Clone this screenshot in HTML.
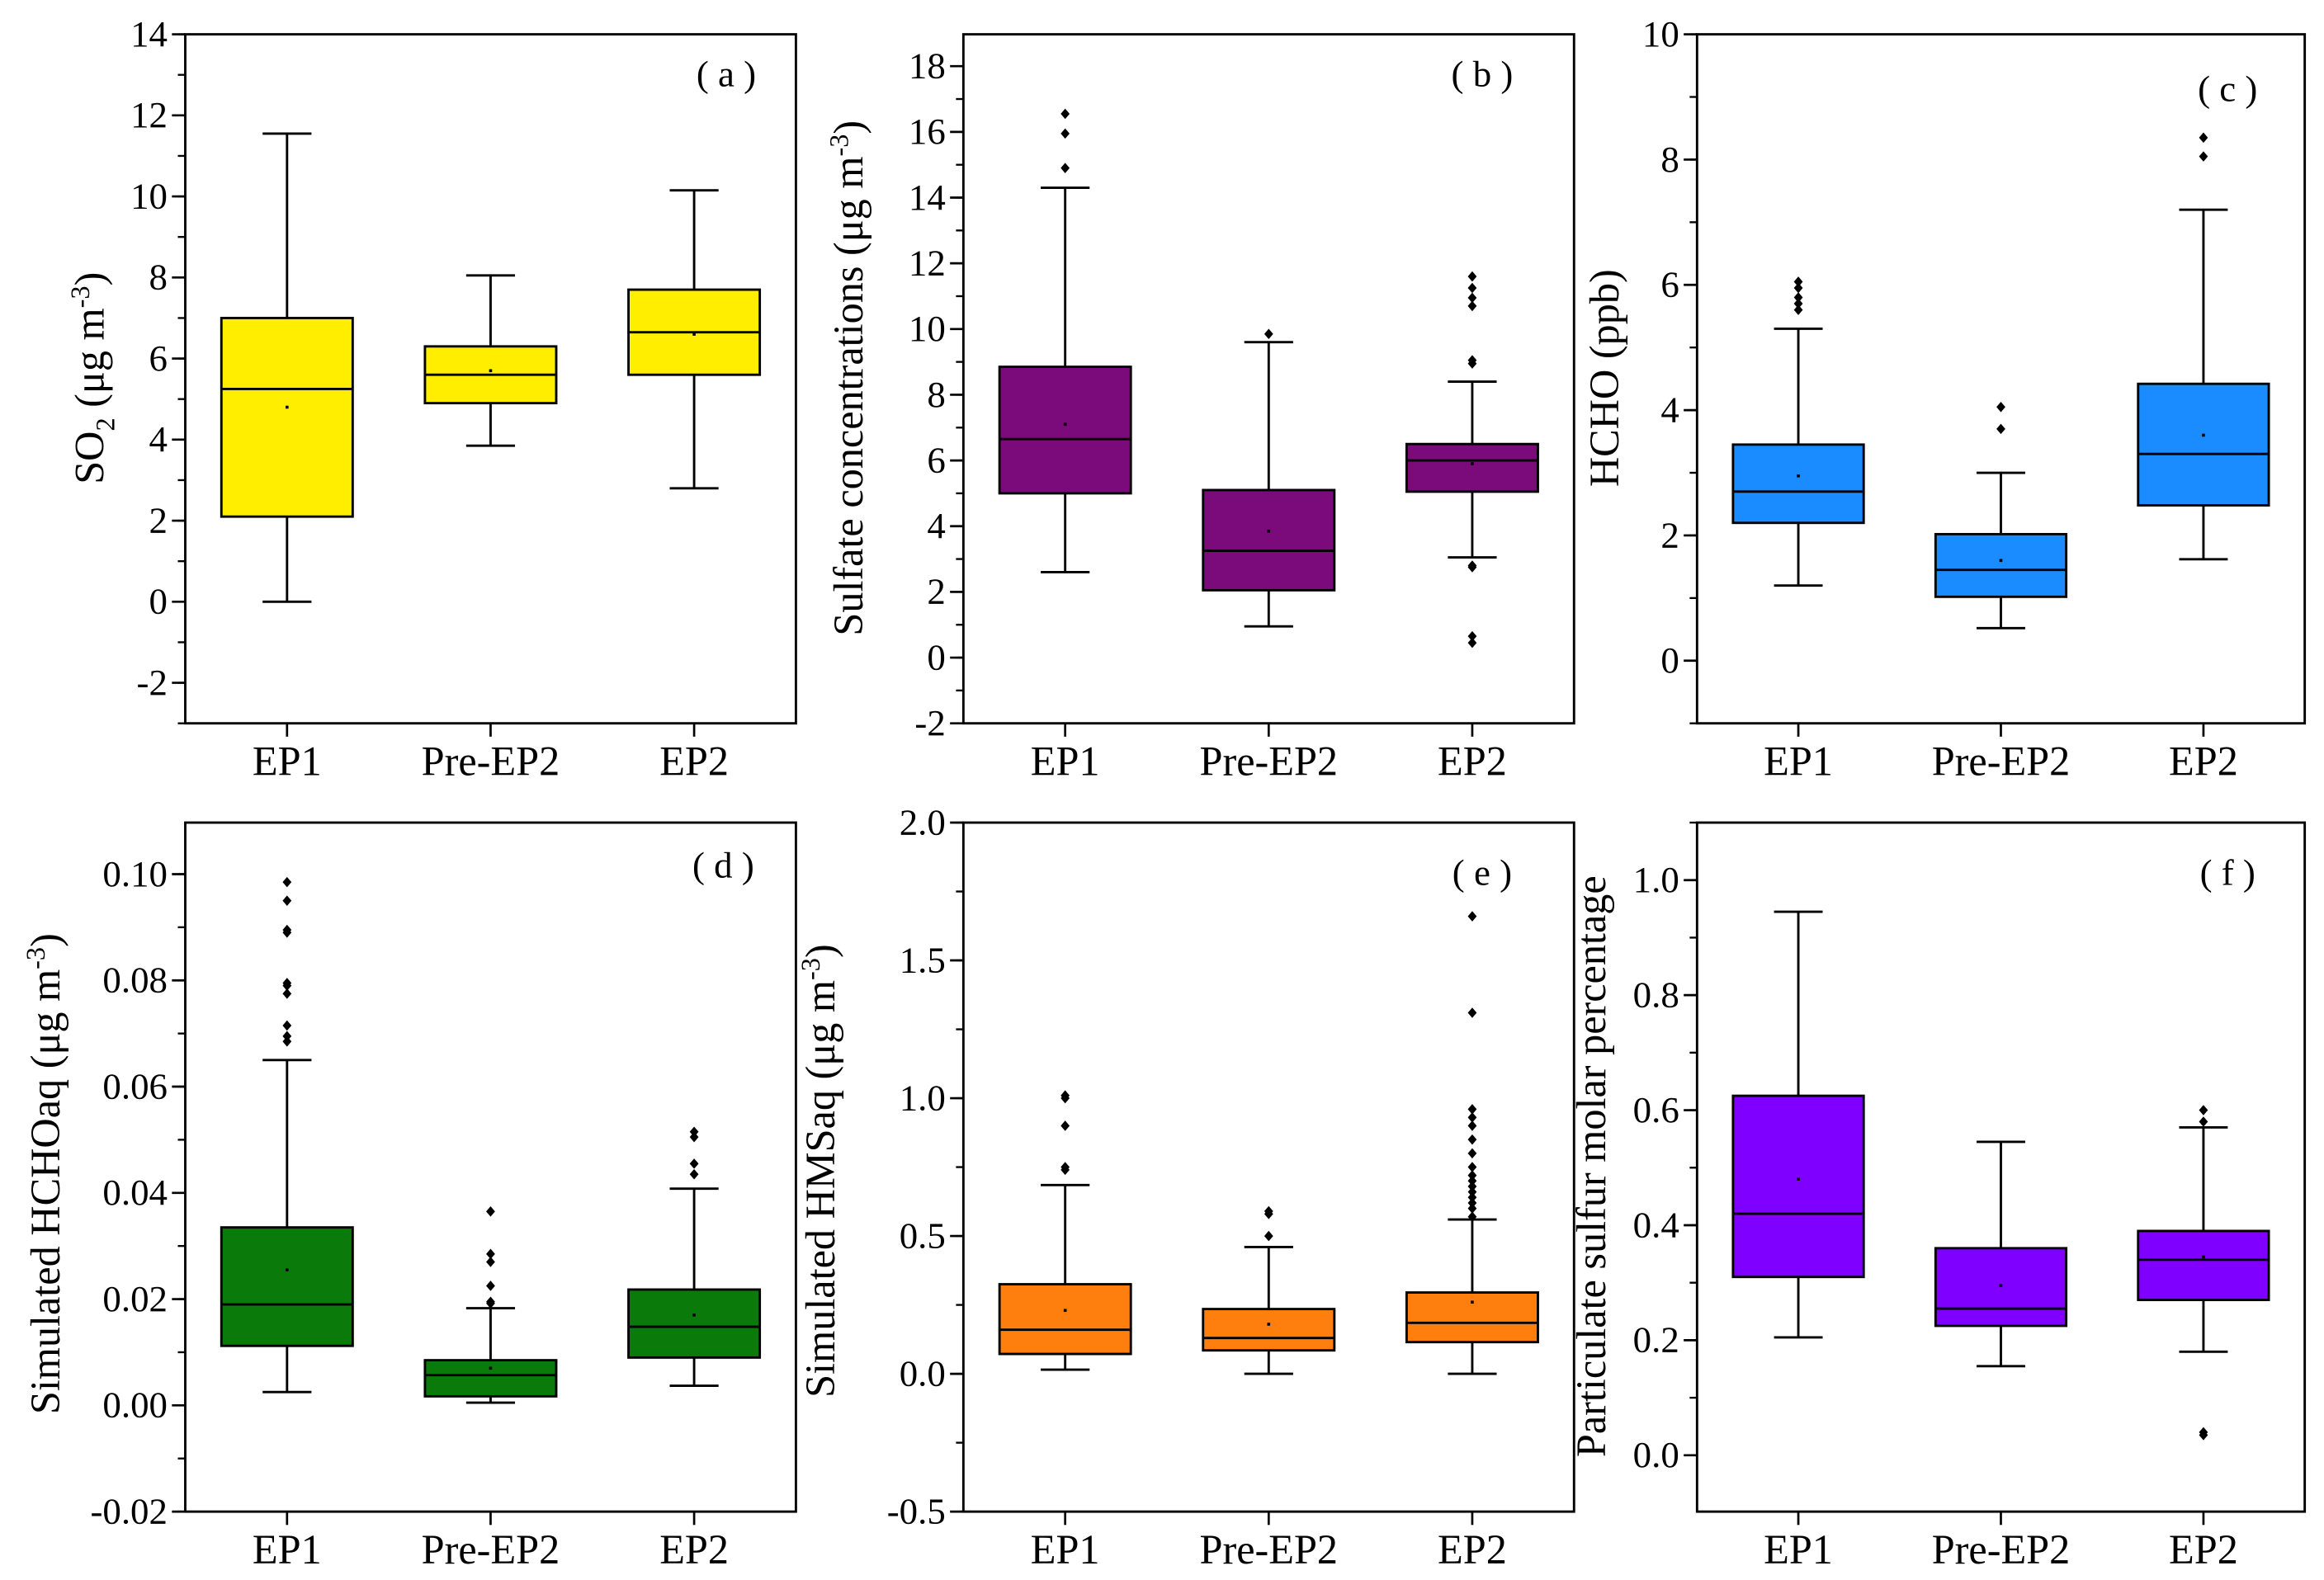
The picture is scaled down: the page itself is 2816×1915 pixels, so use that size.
<!DOCTYPE html>
<html><head><meta charset="utf-8"><style>
html,body{margin:0;padding:0;background:#fff}
svg{display:block}
text{font-family:"Liberation Serif","Times New Roman",Times,serif;fill:#000}
</style></head><body>
<svg id="fig" width="2816" height="1915" viewBox="0 0 1568 1066" xmlns="http://www.w3.org/2000/svg"></svg>
<script>
const categories = ["EP1","Pre-EP2","EP2"];
// per panel: [whiskerLow, q1, median, q3, whiskerHigh, mean]
const statsA = [[0,2.1,5.25,7.0,11.55,4.8],[3.85,4.9,5.6,6.3,8.05,5.7],[2.8,5.6,6.65,7.7,10.15,6.6]];
const outA = [[],[],[]];
const statsB = [[2.6,5.0,6.65,8.85,14.3,7.1],[0.95,2.05,3.25,5.1,9.6,3.85],[3.05,5.05,6.0,6.5,8.4,5.9]];
const outB = [[14.9,15.95,16.55],[9.85],[8.95,9.05,10.7,10.95,11.25,11.6,2.8,2.75,0.65,0.45]];
const statsC = [[1.2,2.2,2.7,3.45,5.3,2.95],[0.52,1.02,1.45,2.02,3.0,1.6],[1.62,2.48,3.3,4.42,7.2,3.6]];
const outC = [[5.6,5.7,5.8,5.95,6.05],[3.7,4.05],[8.05,8.35]];
const statsD = [[0.0025,0.0112,0.019,0.0335,0.065,0.0255],[0.0005,0.0017,0.0057,0.0085,0.0183,0.007],[0.0037,0.009,0.0148,0.0218,0.0408,0.017]];
const outD = [[0.0685,0.0695,0.0715,0.0775,0.079,0.0795,0.089,0.0895,0.095,0.0985],[0.0192,0.0195,0.0225,0.027,0.0285,0.0365],[0.0435,0.0455,0.0505,0.0515]];
const statsE = [[0.015,0.072,0.16,0.325,0.685,0.23],[0,0.085,0.13,0.235,0.46,0.18],[0,0.115,0.185,0.295,0.56,0.26]];
const outE = [[0.74,0.75,0.9,1.0,1.01],[0.5,0.58,0.59],[0.57,0.6,0.62,0.64,0.66,0.68,0.7,0.72,0.75,0.8,0.85,0.9,0.93,0.96,1.31,1.66]];
const statsF = [[0.205,0.31,0.42,0.625,0.945,0.48],[0.155,0.225,0.255,0.36,0.545,0.295],[0.18,0.27,0.34,0.39,0.57,0.345]];
const outF = [[],[],[0.58,0.6,0.04,0.035]];
const ticksA=[-2,0,2,4,6,8,10,12,14], ticksB=[-2,0,2,4,6,8,10,12,14,16,18], ticksC=[0,2,4,6,8,10];
const ticksD=[-0.02,0,0.02,0.04,0.06,0.08,0.10], ticksE=[-0.5,0,0.5,1.0,1.5,2.0], ticksF=[0,0.2,0.4,0.6,0.8,1.0];

const panels=[
 {id:"a",x0:125,x1:537,y0:23,y1:488,min:-3,max:14,ticks:ticksA,dec:0,minor:1,stats:statsA,out:outA,color:"#ffee00",title:"SO<tspan font-size='18' dy='7'>2</tspan><tspan dy='-7'> (μg m</tspan><tspan font-size='18' dy='-10'>-3</tspan><tspan dy='10'>)</tspan>",lab:"( a )",lx:490,ly:58,tx:70,ty:255},
 {id:"b",x0:650,x1:1062,y0:23,y1:488,min:-2,max:18.97,ticks:ticksB,dec:0,minor:1,stats:statsB,out:outB,color:"#7b0a7b",title:"Sulfate concentrations  (μg m<tspan font-size='18' dy='-10'>-3</tspan><tspan dy='10'>)</tspan>",lab:"( b )",lx:1000,ly:58,tx:582,ty:255},
 {id:"c",x0:1145,x1:1555,y0:23,y1:488,min:-1,max:10,ticks:ticksC,dec:0,minor:1,stats:statsC,out:outC,color:"#1a8cff",title:"HCHO (ppb)",lab:"( c )",lx:1503,ly:68,tx:1092,ty:255},
 {id:"d",x0:125,x1:537,y0:555,y1:1020,min:-0.02,max:0.1097,ticks:ticksD,dec:2,minor:0.01,stats:statsD,out:outD,color:"#0a7a0a",title:"Simulated HCHOaq (μg m<tspan font-size='18' dy='-10'>-3</tspan><tspan dy='10'>)</tspan>",lab:"( d )",lx:488,ly:592,tx:40,ty:792},
 {id:"e",x0:650,x1:1062,y0:555,y1:1020,min:-0.5,max:2.0,ticks:ticksE,dec:1,minor:0.25,stats:statsE,out:outE,color:"#ff7f0e",title:"Simulated HMSaq (μg m<tspan font-size='18' dy='-10'>-3</tspan><tspan dy='10'>)</tspan>",lab:"( e )",lx:1000,ly:597,tx:563,ty:790},
 {id:"f",x0:1145,x1:1555,y0:555,y1:1020,min:-0.098,max:1.1,ticks:ticksF,dec:1,minor:0.1,stats:statsF,out:outF,color:"#8000ff",title:"Particulate sulfur molar percentage",lab:"( f )",lx:1503,ly:597,tx:1083,ty:787}
];
const NS="http://www.w3.org/2000/svg";
const svg=document.getElementById("fig");
function el(tag,attrs,parent){const e=document.createElementNS(NS,tag);for(const k in attrs)e.setAttribute(k,attrs[k]);(parent||svg).appendChild(e);return e;}
panels.forEach(p=>{
  const g=el("g",{});
  
  
  const ys=v=>p.y1-(v-p.min)/(p.max-p.min)*(p.y1-p.y0);
  const bw=p.x1-p.x0, xs=i=>p.x0+bw*(i+0.5)/3, boxW=bw*0.215, capW=bw*0.08;
  for(let v=Math.ceil(p.min/p.minor)*p.minor; v<=p.max+1e-9; v+=p.minor){
    const t=el("line",{x1:p.x0-5,x2:p.x0,y1:ys(v),y2:ys(v),stroke:"#000","stroke-width":1.3},g);
    
    
  }
  p.ticks.forEach(v=>{
    const t=el("line",{x1:p.x0-9,x2:p.x0,y1:ys(v),y2:ys(v),stroke:"#000","stroke-width":1.5},g);
    
    
    const tx=el("text",{x:p.x0-12,y:ys(v)+8,"text-anchor":"end","font-size":25},g);
    tx.textContent=v.toFixed(p.dec);
    
    
  });
  categories.forEach((c,i)=>{
    const t=el("line",{x1:xs(i),x2:xs(i),y1:p.y1,y2:p.y1+9,stroke:"#000","stroke-width":1.5},g);
    
    
    const tx=el("text",{x:xs(i),y:p.y1+35,"text-anchor":"middle","font-size":28},g);
    tx.textContent=c;
    
    
    const s=p.stats[i], cx=xs(i);
    const w=el("g",{},g);
    
    
    el("line",{x1:cx,x2:cx,y1:ys(s[0]),y2:ys(s[4]),stroke:"#000","stroke-width":1.6},w);
    el("line",{x1:cx-capW/2,x2:cx+capW/2,y1:ys(s[0]),y2:ys(s[0]),stroke:"#000","stroke-width":1.6},w);
    el("line",{x1:cx-capW/2,x2:cx+capW/2,y1:ys(s[4]),y2:ys(s[4]),stroke:"#000","stroke-width":1.6},w);
    el("rect",{x:cx-boxW/2,y:ys(s[3]),width:boxW,height:ys(s[1])-ys(s[3]),fill:p.color,stroke:"#000","stroke-width":1.6},w);
    el("line",{x1:cx-boxW/2,x2:cx+boxW/2,y1:ys(s[2]),y2:ys(s[2]),stroke:"#000","stroke-width":1.6},w);
    el("rect",{x:cx-1,y:ys(s[5])-1,width:2,height:2,fill:"#000"},w);
    p.out[i].forEach(v=>{
      const o=el("path",{d:`M${cx} ${ys(v)-3.5}L${cx+3} ${ys(v)}L${cx} ${ys(v)+3.5}L${cx-3} ${ys(v)}Z`,fill:"#000"},w);
      
      
    });
  });
  const fr=el("rect",{x:p.x0,y:p.y0,width:bw,height:p.y1-p.y0,fill:"none",stroke:"#000","stroke-width":1.6},g);
  
  
  const cy=p.ty;
  const tt=el("text",{x:p.tx,y:cy,"text-anchor":"middle","font-size":28,transform:`rotate(-90 ${p.tx} ${cy})`},g);
  tt.innerHTML=p.title;
  
  
  const lb=el("text",{x:p.lx,y:p.ly,"text-anchor":"middle","font-size":25},g);
  lb.textContent=p.lab;
  
  
});
</script>
</body></html>
